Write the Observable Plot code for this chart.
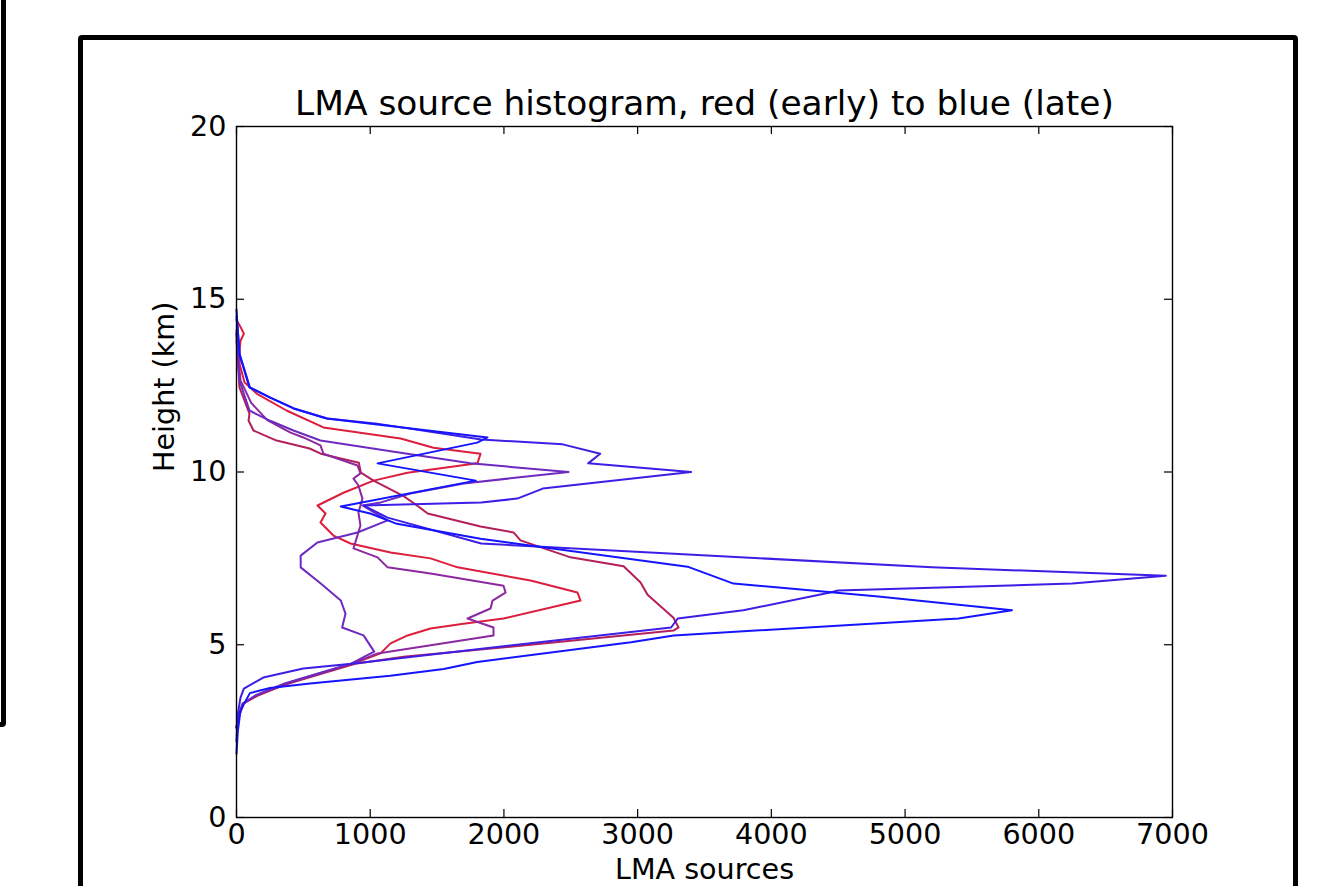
<!DOCTYPE html>
<html>
<head>
<meta charset="utf-8">
<script src="https://cdn.jsdelivr.net/npm/d3@7"></script>
<script src="https://cdn.jsdelivr.net/npm/@observablehq/plot@0.6"></script>
<style>
  html, body { margin: 0; padding: 0; background: #fff; overflow: hidden; }
  #wrap { position: relative; width: 1321px; height: 886px; overflow: hidden; }
  #wrap svg { position: absolute; left: 0; top: 0; }
  .edge { position: absolute; box-sizing: border-box; border: 5px solid #000; border-radius: 4px; pointer-events: none; }
</style>
</head>
<body>
<div id="wrap"></div>
<script>
// ---- data (height km, LMA sources), traced from top of profile to bottom ----
const titleText = "LMA source histogram, red (early) to blue (late)";
const xLabelText = "LMA sources";
const yLabelText = "Height (km)";
const xTicks = [0, 1000, 2000, 3000, 4000, 5000, 6000, 7000];
const yTicks = [0, 5, 10, 15, 20];

const seriesNames = ["t1", "t2", "t3", "t4", "t5", "t6"];
const seriesColors = ["#dc1e3c", "#b41e5a", "#8c28a0", "#6e2ac0", "#3c1ee6", "#1414ff"];

const series1 = [[14.4,0],[14.2,30],[14.0,55],[13.8,30],[13.4,20],[13.1,25],[12.6,60],[12.27,150],[11.78,374],[11.29,650],[10.97,1227],[10.7,1473],[10.53,1825],[10.25,1802],[9.98,1279],[9.75,1025],[9.4,800],[9.03,606],[8.8,666],[8.54,628],[8.16,725],[7.93,853],[7.67,1152],[7.5,1451],[7.24,1653],[6.86,2199],[6.51,2550],[6.28,2573],[5.76,1997],[5.61,1698],[5.47,1451],[5.27,1279],[5.04,1152],[4.75,1077],[4.46,880],[4.17,630],[3.88,380],[3.53,160],[3.3,50],[2.9,15],[2.6,0]];
const series2 = [[14.0,0],[13.3,10],[12.45,22],[11.69,97],[11.49,90],[11.2,127],[10.91,300],[10.68,547],[10.53,630],[10.27,915],[9.98,930],[9.75,1025],[9.3,1250],[9.03,1350],[8.8,1430],[8.42,1825],[8.25,2072],[8.02,2124],[7.53,2498],[7.27,2895],[6.8,3022],[6.45,3074],[5.78,3268],[5.5,3306],[5.41,3268],[4.86,1825],[4.65,1250],[4.46,900],[4.17,640],[3.88,390],[3.53,150],[3.3,55],[2.9,15],[2.6,0]];
const series3 = [[14.1,0],[13.5,8],[12.65,30],[12.0,110],[11.5,230],[11.14,404],[11.0,500],[10.77,628],[10.53,650],[10.19,905],[9.96,927],[9.81,875],[9.61,912],[9.23,942],[8.83,912],[8.45,927],[7.79,875],[7.53,1055],[7.24,1130],[7.06,1451],[6.71,1997],[6.51,2012],[6.28,1915],[6.05,1900],[5.76,1728],[5.5,1922],[5.27,1922],[4.75,1055],[4.46,870],[4.17,620],[3.88,370],[3.53,150],[3.3,50],[2.9,12],[2.6,0]];
const series4 = [[13.8,0],[12.65,22],[11.78,97],[11.49,247],[11.2,426],[10.91,628],[10.56,1227],[10.25,1750],[10.0,2483],[9.67,1700],[9.38,1300],[9.12,1080],[9.03,942],[8.6,1130],[8.25,905],[7.96,605],[7.58,480],[7.24,480],[6.77,630],[6.28,780],[5.9,815],[5.5,790],[5.27,950],[4.8,1030],[4.46,860],[4.17,610],[3.88,360],[3.53,140],[3.3,45],[2.9,10],[2.6,0]];
const series5 = [[14.5,0],[13.4,25],[12.45,100],[12.16,250],[11.84,430],[11.55,680],[11.4,1050],[10.94,1830],[10.8,2440],[10.53,2720],[10.25,2630],[10.0,3400],[9.52,2290],[9.23,2100],[9.12,1830],[9.03,950],[8.68,1130],[7.93,1830],[7.24,5200],[7.0,6950],[6.77,6250],[6.57,4500],[6.51,4440],[6.0,3790],[5.76,3300],[5.5,3250],[4.89,1850],[4.46,880],[4.31,500],[4.05,200],[3.73,55],[3.47,30],[3.0,10],[2.2,0]];
const series6 = [[14.7,0],[13.4,22],[12.45,97],[12.16,247],[11.84,426],[11.55,673],[11.35,1100],[11.0,1877],[10.85,1800],[10.25,1055],[9.75,1790],[9.0,780],[8.8,1000],[8.5,1200],[8.07,1825],[7.26,3373],[6.77,3717],[6.4,4800],[6.0,5800],[5.76,5400],[5.27,3270],[5.07,2950],[4.5,1800],[4.3,1550],[4.1,1150],[3.88,550],[3.75,250],[3.6,100],[3.1,30],[2.5,10],[1.85,0]];

const allSeries = [series1, series2, series3, series4, series5, series6];
const rows = allSeries.flatMap((s, i) => s.map(([h, v]) => ({series: seriesNames[i], height: h, sources: v})));

const W = 1321, H = 886;
const mL = 236, mR = 149, mT = 126, mB = 69;
const innerW = W - mL - mR, innerH = H - mT - mB;
const tickLen = 8;
const fs = 28.6;

const chart = Plot.plot({
  width: W, height: H,
  marginLeft: mL, marginRight: mR, marginTop: mT, marginBottom: mB,
  style: {fontFamily: "'DejaVu Sans', sans-serif", fontSize: fs + "px", background: "transparent", color: "#000"},
  x: {domain: [0, 7000], label: null},
  y: {domain: [0, 20], label: null},
  color: {domain: seriesNames, range: seriesColors},
  marks: [
    Plot.line(rows, {x: "sources", y: "height", z: "series", stroke: "series", strokeWidth: 2}),
    Plot.frame({stroke: "#000", strokeWidth: 1.4}),
    Plot.tickX(xTicks, {x: d => d, insetTop: innerH - tickLen, stroke: "#000", strokeWidth: 1.2}),
    Plot.tickX(xTicks, {x: d => d, insetBottom: innerH - tickLen, stroke: "#000", strokeWidth: 1.2}),
    Plot.tickY(yTicks, {y: d => d, insetRight: innerW - tickLen, stroke: "#000", strokeWidth: 1.2}),
    Plot.tickY(yTicks, {y: d => d, insetLeft: innerW - tickLen, stroke: "#000", strokeWidth: 1.2}),
    Plot.axisX({ticks: xTicks, tickFormat: d => String(d), tickSize: 0, tickPadding: 6, label: null, fontSize: fs, fill: "#000"}),
    Plot.axisY({ticks: yTicks, tickFormat: d => String(d), tickSize: 0, tickPadding: 10, label: null, fontSize: fs, fill: "#000"}),
    Plot.text([titleText], {text: d => d, frameAnchor: "top", lineAnchor: "middle", dy: -23, fontSize: 34.4, fill: "#000"}),
    Plot.text([xLabelText], {text: d => d, frameAnchor: "bottom", lineAnchor: "middle", dy: 52, fontSize: fs, fill: "#000"}),
    Plot.text([yLabelText], {text: d => d, frameAnchor: "left", lineAnchor: "middle", dx: -72, rotate: -90, fontSize: fs, fill: "#000"})
  ]
});

const wrap = document.getElementById("wrap");
wrap.appendChild(chart);

const leftEdge = document.createElement("div");
leftEdge.className = "edge";
Object.assign(leftEdge.style, {left: "-20px", top: "-20px", width: "26px", height: "747px"});
wrap.appendChild(leftEdge);

const mainBox = document.createElement("div");
mainBox.className = "edge";
Object.assign(mainBox.style, {left: "78px", top: "35px", width: "1220px", height: "1000px"});
wrap.appendChild(mainBox);
</script>
</body>
</html>
